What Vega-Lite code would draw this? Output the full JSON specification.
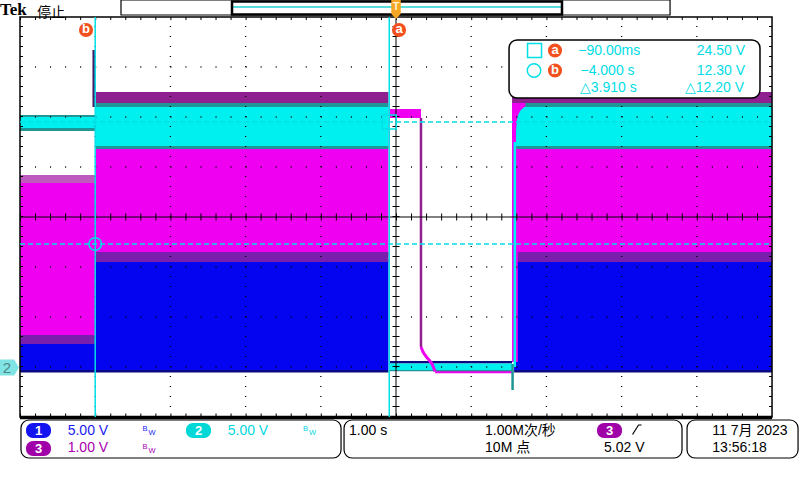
{
  "$schema": "https://vega.github.io/schema/vega-lite/v6.json",
  "width": 800,
  "height": 480,
  "padding": 0,
  "autosize": {"type": "none"},
  "background": "#ffffff",
  "config": {"view": {"stroke": null}},
  "datasets": {
    "traces": [
      {"t": -5, "t2": -3.99, "v": 3.2, "v2": -0.3, "k": "CH1"},
      {"t": -3.99, "t2": -0.1, "v": 10.8, "v2": -0.3, "k": "CH1"},
      {"t": 1.57, "t2": 5, "v": 10.8, "v2": -0.3, "k": "CH1"},
      {"t": -0.093, "t2": 1.543, "v": 0.6, "v2": 0.35, "k": "CH1 edge"},
      {"t": -5, "t2": -0.1, "v": -0.3, "v2": -0.55, "k": "CH1 edge"},
      {"t": 1.57, "t2": 5, "v": -0.3, "v2": -0.55, "k": "CH1 edge"},
      {"t": -5, "t2": -3.99, "v": 18.4, "v2": 3.2, "k": "CH3"},
      {"t": -5, "t2": -3.99, "v": 19.2, "v2": 18.4, "k": "CH3 haze"},
      {"t": -5, "t2": -3.99, "v": 3.2, "v2": 2.3, "k": "CH3 deep"},
      {"t": -3.99, "t2": -0.1, "v": 26.4, "v2": 11.0, "k": "CH3"},
      {"t": -3.99, "t2": -0.1, "v": 27.5, "v2": 26.4, "k": "CH3 edge"},
      {"t": -3.99, "t2": -0.1, "v": 11.5, "v2": 10.5, "k": "CH3 deep"},
      {"t": 1.543, "t2": 5, "v": 26.4, "v2": 11.0, "k": "CH3"},
      {"t": 1.543, "t2": 5, "v": 27.5, "v2": 26.4, "k": "CH3 edge"},
      {"t": 1.6, "t2": 5, "v": 11.5, "v2": 10.5, "k": "CH3 deep"},
      {"t": 1.543, "t2": 1.62, "v": 26.4, "v2": 0.5, "k": "CH3"},
      {"t": -0.08, "t2": 0.332, "v": 25.8, "v2": 24.9, "k": "CH3"},
      {"t": 0.52, "t2": 1.543, "v": -0.3, "v2": -0.63, "k": "CH3"},
      {"t": -5, "t2": -3.99, "v": 25.0, "v2": 23.9, "k": "CH2"},
      {"t": -5, "t2": -3.99, "v": 25.2, "v2": 25.0, "k": "CH2 edge"},
      {"t": -5, "t2": -3.99, "v": 23.9, "v2": 23.6, "k": "CH2 edge"},
      {"t": -3.99, "t2": -0.1, "v": 26.0, "v2": 22.1, "k": "CH2"},
      {"t": -3.99, "t2": -0.1, "v": 26.4, "v2": 26.0, "k": "CH2 edge"},
      {"t": -3.99, "t2": -0.1, "v": 22.1, "v2": 21.8, "k": "CH2 edge"},
      {"t": 1.7, "t2": 5, "v": 26.0, "v2": 22.1, "k": "CH2"},
      {"t": 1.72, "t2": 5, "v": 26.4, "v2": 26.0, "k": "CH2 edge"},
      {"t": 1.6, "t2": 5, "v": 22.1, "v2": 21.8, "k": "CH2 edge"},
      {"t": -0.093, "t2": 1.543, "v": 0.35, "v2": -0.3, "k": "CH2"},
      {"t": -0.093, "t2": 1.543, "v": -0.3, "v2": -0.42, "k": "CH2 edge"}
    ],
    "ch2rise": [
      {"t": 1.596, "v": 23.5, "v2": 22.1},
      {"t": 1.609, "v": 24.7, "v2": 22.1},
      {"t": 1.636, "v": 25.4, "v2": 22.1},
      {"t": 1.662, "v": 25.7, "v2": 22.1},
      {"t": 1.702, "v": 25.95, "v2": 22.1},
      {"t": 1.742, "v": 26.0, "v2": 22.1}
    ],
    "edges": [
      {"t": -4.02, "v": 31.7, "v2": 26.0, "k": "CH3 spike"},
      {"t": 1.58, "v": 0.0, "v2": 22.5, "k": "CH2"},
      {"t": 1.55, "v": 0.3, "v2": -2.3, "k": "CH2 edge"},
      {"t": 0.332, "v": 24.9, "v2": 2.0, "k": "CH3 edge"}
    ],
    "ch3fall": [
      {"t": 0.332, "v": 2.0},
      {"t": 0.36, "v": 1.5},
      {"t": 0.385, "v": 1.2},
      {"t": 0.41, "v": 0.95},
      {"t": 0.44, "v": 0.7},
      {"t": 0.48, "v": 0.3},
      {"t": 0.52, "v": -0.45}
    ],
    "hgrid": [
      {"t": -5, "t2": 5, "v": 0},
      {"t": -5, "t2": 5, "v": 5},
      {"t": -5, "t2": 5, "v": 10},
      {"t": -5, "t2": 5, "v": 20},
      {"t": -5, "t2": 5, "v": 25},
      {"t": -5, "t2": 5, "v": 30}
    ],
    "vgrid": [
      {"t": -4, "v": -5, "v2": 35},
      {"t": -3, "v": -5, "v2": 35},
      {"t": -2, "v": -5, "v2": 35},
      {"t": -1, "v": -5, "v2": 35},
      {"t": 1, "v": -5, "v2": 35},
      {"t": 2, "v": -5, "v2": 35},
      {"t": 3, "v": -5, "v2": 35},
      {"t": 4, "v": -5, "v2": 35}
    ],
    "hcenter": [{"t": -5, "t2": 5, "v": 15}],
    "vcenter": [{"t": 0, "v": -5, "v2": 35}],
    "hborderticks": [
      {"t": -5, "t2": 5, "v": 34.85},
      {"t": -5, "t2": 5, "v": -4.8}
    ],
    "vborderticks": [
      {"t": -4.98, "v": -5, "v2": 35},
      {"t": 4.98, "v": -5, "v2": 35}
    ],
    "frame": [{"t": -5, "t2": 5, "v": -5, "v2": 35}],
    "bottomedge": [{"t": -5, "t2": 5, "v": -5.05}],
    "vcursors": [
      {"t": -4.0, "v": -5, "v2": 35},
      {"t": -0.09, "v": -5, "v2": 35}
    ],
    "hcursors": [
      {"t": -5, "t2": 5, "v": 24.5},
      {"t": -5, "t2": 5, "v": 12.3}
    ],
    "readoutbox": [{"t": 1.503, "t2": 4.84, "v": 32.7, "v2": 26.9}],
    "markers": [
      {"t": -4.122, "v": 33.7, "label": "b"},
      {"t": 0.04, "v": 33.7, "label": "a"},
      {"t": 2.114, "v": 31.65, "label": "a"},
      {"t": 2.114, "v": 29.65, "label": "b"}
    ],
    "readouttext": [
      {"t": 2.424, "v": 31.65, "label": "−90.00ms"},
      {"t": 3.999, "v": 31.65, "label": "24.50 V"},
      {"t": 2.453, "v": 29.65, "label": "−4.000 s"},
      {"t": 3.999, "v": 29.65, "label": "12.30 V"},
      {"t": 2.447, "v": 27.9, "label": "△3.910 s"},
      {"t": 3.843, "v": 27.9, "label": "△12.20 V"}
    ],
    "panels": [
      {"t": -4.987, "t2": -0.731, "v": -5.3, "v2": -9.1},
      {"t": -0.691, "t2": 3.803, "v": -5.3, "v2": -9.1},
      {"t": 3.87, "t2": 5.346, "v": -5.3, "v2": -9.1}
    ]
  },
  "layer": [
    {
      "data": {"name": "traces"},
      "mark": {"type": "rect"},
      "encoding": {
        "x": {"field": "t", "type": "quantitative", "scale": {"domain": [-5.266, 5.372], "nice": false, "zero": false}, "axis": null},
        "x2": {"field": "t2"},
        "y": {"field": "v", "type": "quantitative", "scale": {"domain": [-11.3, 36.7], "nice": false, "zero": false}, "axis": null},
        "y2": {"field": "v2"},
        "color": {"field": "k", "type": "nominal", "scale": {"domain": ["CH1", "CH1 edge", "CH3", "CH3 edge", "CH3 haze", "CH3 deep", "CH3 spike", "CH2", "CH2 edge"], "range": ["#0404F0", "#0A0A80", "#F000F0", "#8E2090", "#BE5ABE", "#7A1EAE", "#4A1A6A", "#00F0F0", "#1F9595"]}, "legend": null}
      }
    },
    {
      "data": {"name": "ch2rise"},
      "mark": {"type": "area", "color": "#00F0F0", "interpolate": "monotone"},
      "encoding": {
        "x": {"field": "t", "type": "quantitative", "scale": {"domain": [-5.266, 5.372], "nice": false, "zero": false}, "axis": null},
        "y": {"field": "v", "type": "quantitative", "scale": {"domain": [-11.3, 36.7], "nice": false, "zero": false}, "axis": null},
        "y2": {"field": "v2"}
      }
    },
    {
      "data": {"name": "edges"},
      "mark": {"type": "rule", "strokeWidth": 2.5},
      "encoding": {
        "x": {"field": "t", "type": "quantitative", "scale": {"domain": [-5.266, 5.372], "nice": false, "zero": false}, "axis": null},
        "y": {"field": "v", "type": "quantitative", "scale": {"domain": [-11.3, 36.7], "nice": false, "zero": false}, "axis": null},
        "y2": {"field": "v2"},
        "color": {"field": "k", "type": "nominal", "legend": null}
      }
    },
    {
      "data": {"name": "ch3fall"},
      "mark": {"type": "line", "color": "#F000F0", "strokeWidth": 3},
      "encoding": {
        "x": {"field": "t", "type": "quantitative", "scale": {"domain": [-5.266, 5.372], "nice": false, "zero": false}, "axis": null},
        "y": {"field": "v", "type": "quantitative", "scale": {"domain": [-11.3, 36.7], "nice": false, "zero": false}, "axis": null}
      }
    },
    {
      "data": {"name": "hgrid"},
      "mark": {"type": "rule", "color": "#000000", "strokeWidth": 1.3, "strokeDash": [1, 14.04]},
      "encoding": {
        "x": {"field": "t", "type": "quantitative", "scale": {"domain": [-5.266, 5.372], "nice": false, "zero": false}, "axis": null},
        "x2": {"field": "t2"},
        "y": {"field": "v", "type": "quantitative", "scale": {"domain": [-11.3, 36.7], "nice": false, "zero": false}, "axis": null}
      }
    },
    {
      "data": {"name": "vgrid"},
      "mark": {"type": "rule", "color": "#000000", "strokeWidth": 1.3, "strokeDash": [1, 9]},
      "encoding": {
        "x": {"field": "t", "type": "quantitative", "scale": {"domain": [-5.266, 5.372], "nice": false, "zero": false}, "axis": null},
        "y": {"field": "v", "type": "quantitative", "scale": {"domain": [-11.3, 36.7], "nice": false, "zero": false}, "axis": null},
        "y2": {"field": "v2"}
      }
    },
    {
      "data": {"name": "hcenter"},
      "mark": {"type": "rule", "color": "#000000", "strokeWidth": 1},
      "encoding": {
        "x": {"field": "t", "type": "quantitative", "scale": {"domain": [-5.266, 5.372], "nice": false, "zero": false}, "axis": null},
        "x2": {"field": "t2"},
        "y": {"field": "v", "type": "quantitative", "scale": {"domain": [-11.3, 36.7], "nice": false, "zero": false}, "axis": null}
      }
    },
    {
      "data": {"name": "hcenter"},
      "mark": {"type": "rule", "color": "#000000", "strokeWidth": 7, "strokeDash": [1, 14.04]},
      "encoding": {
        "x": {"field": "t", "type": "quantitative", "scale": {"domain": [-5.266, 5.372], "nice": false, "zero": false}, "axis": null},
        "x2": {"field": "t2"},
        "y": {"field": "v", "type": "quantitative", "scale": {"domain": [-11.3, 36.7], "nice": false, "zero": false}, "axis": null}
      }
    },
    {
      "data": {"name": "vcenter"},
      "mark": {"type": "rule", "color": "#000000", "strokeWidth": 1},
      "encoding": {
        "x": {"field": "t", "type": "quantitative", "scale": {"domain": [-5.266, 5.372], "nice": false, "zero": false}, "axis": null},
        "y": {"field": "v", "type": "quantitative", "scale": {"domain": [-11.3, 36.7], "nice": false, "zero": false}, "axis": null},
        "y2": {"field": "v2"}
      }
    },
    {
      "data": {"name": "vcenter"},
      "mark": {"type": "rule", "color": "#000000", "strokeWidth": 7, "strokeDash": [1, 9]},
      "encoding": {
        "x": {"field": "t", "type": "quantitative", "scale": {"domain": [-5.266, 5.372], "nice": false, "zero": false}, "axis": null},
        "y": {"field": "v", "type": "quantitative", "scale": {"domain": [-11.3, 36.7], "nice": false, "zero": false}, "axis": null},
        "y2": {"field": "v2"}
      }
    },
    {
      "data": {"name": "hborderticks"},
      "mark": {"type": "rule", "color": "#000000", "strokeWidth": 3, "strokeDash": [1, 14.04]},
      "encoding": {
        "x": {"field": "t", "type": "quantitative", "scale": {"domain": [-5.266, 5.372], "nice": false, "zero": false}, "axis": null},
        "x2": {"field": "t2"},
        "y": {"field": "v", "type": "quantitative", "scale": {"domain": [-11.3, 36.7], "nice": false, "zero": false}, "axis": null}
      }
    },
    {
      "data": {"name": "vborderticks"},
      "mark": {"type": "rule", "color": "#000000", "strokeWidth": 3, "strokeDash": [1, 9]},
      "encoding": {
        "x": {"field": "t", "type": "quantitative", "scale": {"domain": [-5.266, 5.372], "nice": false, "zero": false}, "axis": null},
        "y": {"field": "v", "type": "quantitative", "scale": {"domain": [-11.3, 36.7], "nice": false, "zero": false}, "axis": null},
        "y2": {"field": "v2"}
      }
    },
    {
      "data": {"name": "frame"},
      "mark": {"type": "rect", "filled": false, "color": "#000000", "strokeWidth": 1.5},
      "encoding": {
        "x": {"field": "t", "type": "quantitative", "scale": {"domain": [-5.266, 5.372], "nice": false, "zero": false}, "axis": null},
        "x2": {"field": "t2"},
        "y": {"field": "v", "type": "quantitative", "scale": {"domain": [-11.3, 36.7], "nice": false, "zero": false}, "axis": null},
        "y2": {"field": "v2"}
      }
    },
    {
      "data": {"name": "bottomedge"},
      "mark": {"type": "rule", "color": "#000000", "strokeWidth": 3.5},
      "encoding": {
        "x": {"field": "t", "type": "quantitative", "scale": {"domain": [-5.266, 5.372], "nice": false, "zero": false}, "axis": null},
        "x2": {"field": "t2"},
        "y": {"field": "v", "type": "quantitative", "scale": {"domain": [-11.3, 36.7], "nice": false, "zero": false}, "axis": null}
      }
    },
    {
      "data": {"name": "vcursors"},
      "mark": {"type": "rule", "color": "#00E0E6", "strokeWidth": 1.5},
      "encoding": {
        "x": {"field": "t", "type": "quantitative", "scale": {"domain": [-5.266, 5.372], "nice": false, "zero": false}, "axis": null},
        "y": {"field": "v", "type": "quantitative", "scale": {"domain": [-11.3, 36.7], "nice": false, "zero": false}, "axis": null},
        "y2": {"field": "v2"}
      }
    },
    {
      "data": {"name": "hcursors"},
      "mark": {"type": "rule", "color": "#00E0E6", "strokeWidth": 1.5, "strokeDash": [5, 3]},
      "encoding": {
        "x": {"field": "t", "type": "quantitative", "scale": {"domain": [-5.266, 5.372], "nice": false, "zero": false}, "axis": null},
        "x2": {"field": "t2"},
        "y": {"field": "v", "type": "quantitative", "scale": {"domain": [-11.3, 36.7], "nice": false, "zero": false}, "axis": null}
      }
    },
    {
      "data": {"values": [{"t": -4.0, "v": 12.3}]},
      "mark": {"type": "point", "shape": "circle", "filled": false, "color": "#00E0E6", "strokeWidth": 1.5, "size": 160, "opacity": 1},
      "encoding": {
        "x": {"field": "t", "type": "quantitative", "scale": {"domain": [-5.266, 5.372], "nice": false, "zero": false}, "axis": null},
        "y": {"field": "v", "type": "quantitative", "scale": {"domain": [-11.3, 36.7], "nice": false, "zero": false}, "axis": null}
      }
    },
    {
      "data": {"values": [{"t": -0.09, "v": 24.5}]},
      "mark": {"type": "point", "shape": "square", "filled": false, "color": "#00E0E6", "strokeWidth": 1.5, "size": 196, "opacity": 1},
      "encoding": {
        "x": {"field": "t", "type": "quantitative", "scale": {"domain": [-5.266, 5.372], "nice": false, "zero": false}, "axis": null},
        "y": {"field": "v", "type": "quantitative", "scale": {"domain": [-11.3, 36.7], "nice": false, "zero": false}, "axis": null}
      }
    },
    {
      "data": {"name": "readoutbox"},
      "mark": {"type": "rect", "fill": "#ffffff", "stroke": "#000000", "strokeWidth": 1.5, "cornerRadius": 8},
      "encoding": {
        "x": {"field": "t", "type": "quantitative", "scale": {"domain": [-5.266, 5.372], "nice": false, "zero": false}, "axis": null},
        "x2": {"field": "t2"},
        "y": {"field": "v", "type": "quantitative", "scale": {"domain": [-11.3, 36.7], "nice": false, "zero": false}, "axis": null},
        "y2": {"field": "v2"}
      }
    },
    {
      "data": {"values": [{"t": 1.842, "v": 31.65}]},
      "mark": {"type": "point", "shape": "square", "filled": false, "color": "#00E0E6", "strokeWidth": 1.5, "size": 196, "opacity": 1},
      "encoding": {
        "x": {"field": "t", "type": "quantitative", "scale": {"domain": [-5.266, 5.372], "nice": false, "zero": false}, "axis": null},
        "y": {"field": "v", "type": "quantitative", "scale": {"domain": [-11.3, 36.7], "nice": false, "zero": false}, "axis": null}
      }
    },
    {
      "data": {"values": [{"t": 1.835, "v": 29.65}]},
      "mark": {"type": "point", "shape": "circle", "filled": false, "color": "#00E0E6", "strokeWidth": 1.5, "size": 180, "opacity": 1},
      "encoding": {
        "x": {"field": "t", "type": "quantitative", "scale": {"domain": [-5.266, 5.372], "nice": false, "zero": false}, "axis": null},
        "y": {"field": "v", "type": "quantitative", "scale": {"domain": [-11.3, 36.7], "nice": false, "zero": false}, "axis": null}
      }
    },
    {
      "data": {"name": "readouttext"},
      "mark": {"type": "text", "align": "left", "baseline": "middle", "fontSize": 14, "color": "#00DCE6", "font": "'Liberation Sans', 'DejaVu Sans', 'Noto Sans CJK SC'"},
      "encoding": {
        "x": {"field": "t", "type": "quantitative", "scale": {"domain": [-5.266, 5.372], "nice": false, "zero": false}, "axis": null},
        "y": {"field": "v", "type": "quantitative", "scale": {"domain": [-11.3, 36.7], "nice": false, "zero": false}, "axis": null},
        "text": {"field": "label"}
      }
    },
    {
      "data": {"name": "markers"},
      "mark": {"type": "point", "shape": "circle", "filled": true, "color": "#F2501E", "size": 200, "opacity": 1},
      "encoding": {
        "x": {"field": "t", "type": "quantitative", "scale": {"domain": [-5.266, 5.372], "nice": false, "zero": false}, "axis": null},
        "y": {"field": "v", "type": "quantitative", "scale": {"domain": [-11.3, 36.7], "nice": false, "zero": false}, "axis": null}
      }
    },
    {
      "data": {"name": "markers"},
      "mark": {"type": "text", "align": "center", "baseline": "middle", "fontSize": 13, "fontWeight": "bold", "color": "#ffffff", "dy": -1, "font": "'Liberation Sans', 'DejaVu Sans'"},
      "encoding": {
        "x": {"field": "t", "type": "quantitative", "scale": {"domain": [-5.266, 5.372], "nice": false, "zero": false}, "axis": null},
        "y": {"field": "v", "type": "quantitative", "scale": {"domain": [-11.3, 36.7], "nice": false, "zero": false}, "axis": null},
        "text": {"field": "label"}
      }
    },
    {
      "data": {"values": [{"t": -3.657, "t2": 3.644, "v": 36.7, "v2": 35.2}]},
      "mark": {"type": "rect", "filled": false, "color": "#000000", "strokeWidth": 1.2},
      "encoding": {
        "x": {"field": "t", "type": "quantitative", "scale": {"domain": [-5.266, 5.372], "nice": false, "zero": false}, "axis": null},
        "x2": {"field": "t2"},
        "y": {"field": "v", "type": "quantitative", "scale": {"domain": [-11.3, 36.7], "nice": false, "zero": false}, "axis": null},
        "y2": {"field": "v2"}
      }
    },
    {
      "data": {"values": [{"t": -2.181, "t2": 2.207, "v": 36.0}]},
      "mark": {"type": "rule", "color": "#20D0D0", "strokeWidth": 1.5},
      "encoding": {
        "x": {"field": "t", "type": "quantitative", "scale": {"domain": [-5.266, 5.372], "nice": false, "zero": false}, "axis": null},
        "x2": {"field": "t2"},
        "y": {"field": "v", "type": "quantitative", "scale": {"domain": [-11.3, 36.7], "nice": false, "zero": false}, "axis": null}
      }
    },
    {
      "data": {"values": [{"t": -2.181, "t2": 2.207, "v": 36.55, "v2": 35.25}]},
      "mark": {"type": "rect", "filled": false, "color": "#000000", "strokeWidth": 2.5},
      "encoding": {
        "x": {"field": "t", "type": "quantitative", "scale": {"domain": [-5.266, 5.372], "nice": false, "zero": false}, "axis": null},
        "x2": {"field": "t2"},
        "y": {"field": "v", "type": "quantitative", "scale": {"domain": [-11.3, 36.7], "nice": false, "zero": false}, "axis": null},
        "y2": {"field": "v2"}
      }
    },
    {
      "data": {"values": [{"t": 0, "v": 35.75}]},
      "mark": {"type": "point", "shape": "M-0.5,-1L0.5,-1L0.5,0.45L0,1L-0.5,0.45Z", "filled": true, "color": "#F5A623", "size": 361, "opacity": 1},
      "encoding": {
        "x": {"field": "t", "type": "quantitative", "scale": {"domain": [-5.266, 5.372], "nice": false, "zero": false}, "axis": null},
        "y": {"field": "v", "type": "quantitative", "scale": {"domain": [-11.3, 36.7], "nice": false, "zero": false}, "axis": null}
      }
    },
    {
      "data": {"values": [{"t": 0, "v": 36.0, "label": "T"}]},
      "mark": {"type": "text", "align": "center", "baseline": "middle", "fontSize": 11, "fontWeight": "bold", "color": "#FFF2D0", "font": "'Liberation Sans', 'DejaVu Sans'"},
      "encoding": {
        "x": {"field": "t", "type": "quantitative", "scale": {"domain": [-5.266, 5.372], "nice": false, "zero": false}, "axis": null},
        "y": {"field": "v", "type": "quantitative", "scale": {"domain": [-11.3, 36.7], "nice": false, "zero": false}, "axis": null},
        "text": {"field": "label"}
      }
    },
    {
      "data": {"values": [{"t": -5.266, "v": 35.25, "label": "Tek"}]},
      "mark": {"type": "text", "align": "left", "baseline": "alphabetic", "fontSize": 17, "fontWeight": "bold", "color": "#000000", "font": "'Liberation Serif', 'DejaVu Serif'"},
      "encoding": {
        "x": {"field": "t", "type": "quantitative", "scale": {"domain": [-5.266, 5.372], "nice": false, "zero": false}, "axis": null},
        "y": {"field": "v", "type": "quantitative", "scale": {"domain": [-11.3, 36.7], "nice": false, "zero": false}, "axis": null},
        "text": {"field": "label"}
      }
    },
    {
      "data": {"values": [{"t": -4.774, "v": 35.05, "label": "停止"}]},
      "mark": {"type": "text", "align": "left", "baseline": "alphabetic", "fontSize": 14, "color": "#000000", "font": "'Noto Sans CJK SC'"},
      "encoding": {
        "x": {"field": "t", "type": "quantitative", "scale": {"domain": [-5.266, 5.372], "nice": false, "zero": false}, "axis": null},
        "y": {"field": "v", "type": "quantitative", "scale": {"domain": [-11.3, 36.7], "nice": false, "zero": false}, "axis": null},
        "text": {"field": "label"}
      }
    },
    {
      "data": {"name": "panels"},
      "mark": {"type": "rect", "fill": "#ffffff", "stroke": "#000000", "strokeWidth": 1.2, "cornerRadius": 8},
      "encoding": {
        "x": {"field": "t", "type": "quantitative", "scale": {"domain": [-5.266, 5.372], "nice": false, "zero": false}, "axis": null},
        "x2": {"field": "t2"},
        "y": {"field": "v", "type": "quantitative", "scale": {"domain": [-11.3, 36.7], "nice": false, "zero": false}, "axis": null},
        "y2": {"field": "v2"}
      }
    },
    {
      "data": {"values": [{"t": -4.92, "t2": -4.588, "v": -5.6, "v2": -7.1}]},
      "mark": {"type": "rect", "color": "#1414F0", "cornerRadius": 7},
      "encoding": {
        "x": {"field": "t", "type": "quantitative", "scale": {"domain": [-5.266, 5.372], "nice": false, "zero": false}, "axis": null},
        "x2": {"field": "t2"},
        "y": {"field": "v", "type": "quantitative", "scale": {"domain": [-11.3, 36.7], "nice": false, "zero": false}, "axis": null},
        "y2": {"field": "v2"}
      }
    },
    {
      "data": {"values": [{"t": -2.793, "t2": -2.46, "v": -5.6, "v2": -7.1}]},
      "mark": {"type": "rect", "color": "#00D8D8", "cornerRadius": 7},
      "encoding": {
        "x": {"field": "t", "type": "quantitative", "scale": {"domain": [-5.266, 5.372], "nice": false, "zero": false}, "axis": null},
        "x2": {"field": "t2"},
        "y": {"field": "v", "type": "quantitative", "scale": {"domain": [-11.3, 36.7], "nice": false, "zero": false}, "axis": null},
        "y2": {"field": "v2"}
      }
    },
    {
      "data": {"values": [{"t": -4.92, "t2": -4.588, "v": -7.4, "v2": -8.9}, {"t": 2.673, "t2": 3.005, "v": -5.6, "v2": -7.1}]},
      "mark": {"type": "rect", "color": "#A000A8", "cornerRadius": 7},
      "encoding": {
        "x": {"field": "t", "type": "quantitative", "scale": {"domain": [-5.266, 5.372], "nice": false, "zero": false}, "axis": null},
        "x2": {"field": "t2"},
        "y": {"field": "v", "type": "quantitative", "scale": {"domain": [-11.3, 36.7], "nice": false, "zero": false}, "axis": null},
        "y2": {"field": "v2"}
      }
    },
    {
      "data": {"values": [{"t": -4.754, "v": -6.35, "label": "1"}, {"t": -2.626, "v": -6.35, "label": "2"}, {"t": -4.754, "v": -8.15, "label": "3"}, {"t": 2.839, "v": -6.35, "label": "3"}]},
      "mark": {"type": "text", "align": "center", "baseline": "middle", "fontSize": 13, "fontWeight": "bold", "color": "#ffffff", "font": "'Liberation Sans', 'DejaVu Sans'"},
      "encoding": {
        "x": {"field": "t", "type": "quantitative", "scale": {"domain": [-5.266, 5.372], "nice": false, "zero": false}, "axis": null},
        "y": {"field": "v", "type": "quantitative", "scale": {"domain": [-11.3, 36.7], "nice": false, "zero": false}, "axis": null},
        "text": {"field": "label"}
      }
    },
    {
      "data": {"values": [{"t": -4.366, "v": -6.35, "label": "5.00 V"}]},
      "mark": {"type": "text", "align": "left", "baseline": "middle", "fontSize": 14, "color": "#1A1AF5", "font": "'Liberation Sans', 'DejaVu Sans'"},
      "encoding": {
        "x": {"field": "t", "type": "quantitative", "scale": {"domain": [-5.266, 5.372], "nice": false, "zero": false}, "axis": null},
        "y": {"field": "v", "type": "quantitative", "scale": {"domain": [-11.3, 36.7], "nice": false, "zero": false}, "axis": null},
        "text": {"field": "label"}
      }
    },
    {
      "data": {"values": [{"t": -3.338, "v": -6.15, "label": "B"}, {"t": -3.245, "v": -6.6, "label": "W"}]},
      "mark": {"type": "text", "align": "center", "baseline": "middle", "fontSize": 7.5, "color": "#1A1AF5", "font": "'Liberation Sans', 'DejaVu Sans'"},
      "encoding": {
        "x": {"field": "t", "type": "quantitative", "scale": {"domain": [-5.266, 5.372], "nice": false, "zero": false}, "axis": null},
        "y": {"field": "v", "type": "quantitative", "scale": {"domain": [-11.3, 36.7], "nice": false, "zero": false}, "axis": null},
        "text": {"field": "label"}
      }
    },
    {
      "data": {"values": [{"t": -2.238, "v": -6.35, "label": "5.00 V"}]},
      "mark": {"type": "text", "align": "left", "baseline": "middle", "fontSize": 14, "color": "#00D8E0", "font": "'Liberation Sans', 'DejaVu Sans'"},
      "encoding": {
        "x": {"field": "t", "type": "quantitative", "scale": {"domain": [-5.266, 5.372], "nice": false, "zero": false}, "axis": null},
        "y": {"field": "v", "type": "quantitative", "scale": {"domain": [-11.3, 36.7], "nice": false, "zero": false}, "axis": null},
        "text": {"field": "label"}
      }
    },
    {
      "data": {"values": [{"t": -1.203, "v": -6.15, "label": "B"}, {"t": -1.11, "v": -6.6, "label": "W"}]},
      "mark": {"type": "text", "align": "center", "baseline": "middle", "fontSize": 7.5, "color": "#00D8E0", "font": "'Liberation Sans', 'DejaVu Sans'"},
      "encoding": {
        "x": {"field": "t", "type": "quantitative", "scale": {"domain": [-5.266, 5.372], "nice": false, "zero": false}, "axis": null},
        "y": {"field": "v", "type": "quantitative", "scale": {"domain": [-11.3, 36.7], "nice": false, "zero": false}, "axis": null},
        "text": {"field": "label"}
      }
    },
    {
      "data": {"values": [{"t": -4.366, "v": -8.1, "label": "1.00 V"}]},
      "mark": {"type": "text", "align": "left", "baseline": "middle", "fontSize": 14, "color": "#A800B0", "font": "'Liberation Sans', 'DejaVu Sans'"},
      "encoding": {
        "x": {"field": "t", "type": "quantitative", "scale": {"domain": [-5.266, 5.372], "nice": false, "zero": false}, "axis": null},
        "y": {"field": "v", "type": "quantitative", "scale": {"domain": [-11.3, 36.7], "nice": false, "zero": false}, "axis": null},
        "text": {"field": "label"}
      }
    },
    {
      "data": {"values": [{"t": -3.338, "v": -7.95, "label": "B"}, {"t": -3.245, "v": -8.4, "label": "W"}]},
      "mark": {"type": "text", "align": "center", "baseline": "middle", "fontSize": 7.5, "color": "#A800B0", "font": "'Liberation Sans', 'DejaVu Sans'"},
      "encoding": {
        "x": {"field": "t", "type": "quantitative", "scale": {"domain": [-5.266, 5.372], "nice": false, "zero": false}, "axis": null},
        "y": {"field": "v", "type": "quantitative", "scale": {"domain": [-11.3, 36.7], "nice": false, "zero": false}, "axis": null},
        "text": {"field": "label"}
      }
    },
    {
      "data": {"values": [
        {"t": -0.625, "v": -6.35, "label": "1.00 s"},
        {"t": 1.184, "v": -6.35, "label": "1.00M次/秒"},
        {"t": 1.184, "v": -8.1, "label": "10M 点"},
        {"t": 2.766, "v": -8.1, "label": "5.02 V"},
        {"t": 4.206, "v": -6.35, "label": "11 7月 2023"},
        {"t": 4.206, "v": -8.1, "label": "13:56:18"}
      ]},
      "mark": {"type": "text", "align": "left", "baseline": "middle", "fontSize": 14, "color": "#000000", "font": "'Liberation Sans', 'DejaVu Sans', 'Noto Sans CJK SC'"},
      "encoding": {
        "x": {"field": "t", "type": "quantitative", "scale": {"domain": [-5.266, 5.372], "nice": false, "zero": false}, "axis": null},
        "y": {"field": "v", "type": "quantitative", "scale": {"domain": [-11.3, 36.7], "nice": false, "zero": false}, "axis": null},
        "text": {"field": "label"}
      }
    },
    {
      "data": {"values": [{"t": 3.145, "v": -6.75}, {"t": 3.225, "v": -5.8}, {"t": 3.265, "v": -5.8}]},
      "mark": {"type": "line", "color": "#000000", "strokeWidth": 1.2},
      "encoding": {
        "x": {"field": "t", "type": "quantitative", "scale": {"domain": [-5.266, 5.372], "nice": false, "zero": false}, "axis": null},
        "y": {"field": "v", "type": "quantitative", "scale": {"domain": [-11.3, 36.7], "nice": false, "zero": false}, "axis": null}
      }
    },
    {
      "data": {"values": [{"t": -5.14, "v": -0.05}]},
      "mark": {"type": "point", "shape": "M-1,-0.85L0.5,-0.85L1,0L0.5,0.85L-1,0.85Z", "filled": true, "color": "#80E4E4", "size": 361, "opacity": 1},
      "encoding": {
        "x": {"field": "t", "type": "quantitative", "scale": {"domain": [-5.266, 5.372], "nice": false, "zero": false}, "axis": null},
        "y": {"field": "v", "type": "quantitative", "scale": {"domain": [-11.3, 36.7], "nice": false, "zero": false}, "axis": null}
      }
    },
    {
      "data": {"values": [{"t": -5.173, "v": -0.05, "label": "2"}]},
      "mark": {"type": "text", "align": "center", "baseline": "middle", "fontSize": 15, "color": "#4F8585", "font": "'Liberation Sans', 'DejaVu Sans'"},
      "encoding": {
        "x": {"field": "t", "type": "quantitative", "scale": {"domain": [-5.266, 5.372], "nice": false, "zero": false}, "axis": null},
        "y": {"field": "v", "type": "quantitative", "scale": {"domain": [-11.3, 36.7], "nice": false, "zero": false}, "axis": null},
        "text": {"field": "label"}
      }
    }
  ]
}
